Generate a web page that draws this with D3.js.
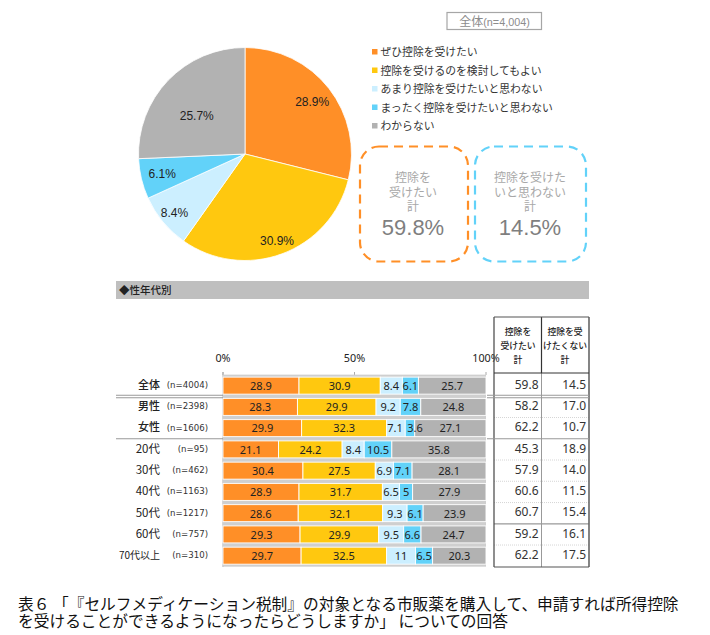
<!DOCTYPE html>
<html><head><meta charset="utf-8">
<script src="https://cdn.jsdelivr.net/npm/d3@7"></script>
<style>html,body{margin:0;padding:0;background:#fff}svg{display:block}text{font-family:"Noto Sans CJK JP","Noto Sans",sans-serif;text-spacing-trim:space-all}</style>
</head><body><div id="c"></div>
<script>
const legendLabels=["ぜひ控除を受けたい","控除を受けるのを検討してもよい","あまり控除を受けたいと思わない","まったく控除を受けたいと思わない","わからない"];
const colors=["#ff8f27","#ffc80f","#ccefff","#62d2f9","#b2b2b2"];
const pieValues=[28.9,30.9,8.4,6.1,25.7];
const rowNames=["全体","男性","女性","20代","30代","40代","50代","60代","70代以上"];
const rowNs=["(n=4004)","(n=2398)","(n=1606)","(n=95)","(n=462)","(n=1163)","(n=1217)","(n=757)","(n=310)"];
const seriesA=[28.9,28.3,29.9,21.1,30.4,28.9,28.6,29.3,29.7];
const seriesB=[30.9,29.9,32.3,24.2,27.5,31.7,32.1,29.9,32.5];
const seriesC=[8.4,9.2,7.1,8.4,6.9,6.5,9.3,9.5,11];
const seriesD=[6.1,7.8,3.6,10.5,7.1,5,6.1,6.6,6.5];
const seriesE=[25.7,24.8,27.1,35.8,28.1,27.9,23.9,24.7,20.3];
const totalWant=["59.8","58.2","62.2","45.3","57.9","60.6","60.7","59.2","62.2"];
const totalNot=["14.5","17.0","10.7","18.9","14.0","11.5","15.4","16.1","17.5"];
const axisTicks=[0,50,100];
const series=[seriesA,seriesB,seriesC,seriesD,seriesE];

const svg=d3.select("#c").append("svg").attr("width",710).attr("height",635);
const sans='"Liberation Sans",Arial,sans-serif';
const num='"Noto Sans",sans-serif';

// pie
const pie=d3.pie().sort(null)(pieValues);
const rPie=106.5,arc=d3.arc().innerRadius(0).outerRadius(rPie);
const gp=svg.append("g").attr("transform","translate(245,154)");
gp.selectAll("path").data(pie).join("path").attr("d",arc).attr("fill",(d,i)=>colors[i]).attr("stroke","#fff").attr("stroke-width",0.8);
const labelR=[0.80,0.865,0.86,0.80,0.575],labelTurn=[0,0,0,0,-0.1];
gp.selectAll("text").data(pie).join("text")
 .attr("transform",(d,i)=>{const a=(d.startAngle+d.endAngle)/2+labelTurn[i],r=rPie*labelR[i];return `translate(${Math.sin(a)*r},${-Math.cos(a)*r})`})
 .attr("text-anchor","middle").attr("dy","0.35em").attr("font-size",12).attr("fill","#222").style("font-family",sans)
 .text(d=>d.value.toFixed(1)+"%");

// title box
svg.append("rect").attr("x",447).attr("y",12.5).attr("width",94.5).attr("height",17).attr("fill","#fff").attr("stroke","#a6a6a6").attr("stroke-width",1.2);
const tt=svg.append("text").attr("x",494.5).attr("y",26).attr("text-anchor","middle").attr("fill","#8c8c8c");
tt.append("tspan").attr("font-size",12).text("全体");
tt.append("tspan").attr("font-size",10.8).style("font-family",sans).text("(n=4,004)");

// legend
const lg=svg.append("g").selectAll("g").data(legendLabels).join("g").attr("transform",(d,i)=>`translate(372,${52+i*18.5})`);
lg.append("rect").attr("y",-3).attr("width",5.5).attr("height",5.5).attr("fill",(d,i)=>colors[i]);
lg.append("text").attr("x",8.5).attr("y",0.5).attr("dy","0.35em").attr("font-size",10.8).attr("fill","#333").text(d=>d);

// dashed callouts
const boxes=[{x:360,c:"#ff8f27",l:["控除を","受けたい","計"],v:"59.8%",cx:413,w:108},{x:475,c:"#62d2f9",l:["控除を受けた","いと思わない","計"],v:"14.5%",cx:530,w:111}];
boxes.forEach(b=>{
 svg.append("rect").attr("x",b.x).attr("y",146.5).attr("width",b.w).attr("height",115).attr("rx",19).attr("fill","#fff").attr("stroke",b.c).attr("stroke-width",2.2).attr("stroke-dasharray","9 6");
 b.l.forEach((t,i)=>svg.append("text").attr("x",b.cx).attr("y",182+i*14.5).attr("text-anchor","middle").attr("font-size",12).attr("fill","#a8a8a8").text(t));
 svg.append("text").attr("x",b.cx).attr("y",235).attr("text-anchor","middle").attr("font-size",22).attr("fill","#7f7f7f").style("font-family",sans).text(b.v);
});

// section band
svg.append("rect").attr("x",116).attr("y",281).attr("width",473).attr("height",18).attr("fill","#bfbfbf");
svg.append("text").attr("x",119).attr("y",290).attr("dy","0.35em").attr("font-size",10.5).attr("fill","#222").attr("font-weight",500).text("◆性年代別");

// bars
const x=d3.scaleLinear().domain([0,100]).range([223,486]);
const y=d3.scaleBand().domain(rowNames).range([375,566.3]).paddingInner(0.2).paddingOuter(0.1);
svg.append("line").attr("x1",223).attr("x2",223).attr("y1",372).attr("y2",567).attr("stroke","#bbb").attr("stroke-width",1.2);
axisTicks.forEach(t=>{
 svg.append("line").attr("x1",x(t)).attr("x2",x(t)).attr("y1",372).attr("y2",375).attr("stroke","#aaa");
 svg.append("text").attr("x",x(t)).attr("y",358).attr("dy","0.35em").attr("text-anchor","middle").attr("font-size",10.8).attr("fill","#222").style("font-family",num).text(t+"%");
});
rowNames.forEach(n=>{
 svg.append("rect").attr("x",223).attr("width",263).attr("y",y(n)-2.5).attr("height",y.bandwidth()+5).attr("fill","#cfcfcf");
});
rowNames.forEach((n,r)=>{
 let cum=0;
 const g=svg.append("g"),gl=svg.append("g");
 series.forEach((s,k)=>{
  const v=s[r],x0=x(cum),x1=x(cum+v);cum+=v;
  const nudge=(r===2&&k===3)?5:(r===2&&k===2)?-1:0;
  g.append("rect").attr("x",x0).attr("y",y(n)).attr("width",x1-x0).attr("height",y.bandwidth()).attr("fill",colors[k]).attr("stroke","#fff").attr("stroke-width",0.9);
  gl.append("text").attr("x",(x0+x1)/2+nudge).attr("y",y(n)+y.bandwidth()/2+0.5).attr("dy","0.35em").attr("text-anchor","middle").attr("font-size",11).attr("fill","#222").style("font-family",num).text(v);
 });
 const cy=y(n)+y.bandwidth()/2;
 svg.append("text").attr("x",160).attr("y",cy-0.5).attr("dy","0.35em").attr("text-anchor","end").attr("font-size",r==8?10:r>2?11.5:11).attr("font-weight",r<3?500:400).attr("fill","#222").text(n);
 svg.append("text").attr("x",208).attr("y",cy-0.5).attr("dy","0.35em").attr("text-anchor","end").attr("font-size",8.6).attr("fill","#333").style("font-family",'"DejaVu Sans",sans-serif').text(rowNs[r]);
});

// table
const tl=494,tm=541.5,tr=589,tt0=317,th=373,tb=567;
const rowLine=i=>y(rowNames[i])-(y.step()-y.bandwidth())/2;
for(let i=1;i<9;i++){
 if(i==1||i==3)continue;
 const yy=rowLine(i),solid=(i==7);
 svg.append("line").attr("x1",tl).attr("x2",tr).attr("y1",yy).attr("y2",yy).attr("stroke",solid?"#999":"#ccc").attr("stroke-width",solid?1.2:0.8).attr("stroke-dasharray",solid?null:"1 1");
}
svg.append("line").attr("x1",tm).attr("x2",tm).attr("y1",th).attr("y2",tb).attr("stroke","#999");
svg.append("line").attr("x1",tm).attr("x2",tm).attr("y1",tt0).attr("y2",th).attr("stroke","#333").attr("stroke-width",1.2);
svg.append("line").attr("x1",tl).attr("x2",tl).attr("y1",tt0).attr("y2",tb).attr("stroke","#444").attr("stroke-width",1.2);
svg.append("line").attr("x1",tr).attr("x2",tr).attr("y1",tt0).attr("y2",tb).attr("stroke","#666").attr("stroke-width",1.6);
[tt0,tb].forEach(v=>svg.append("line").attr("x1",tl).attr("x2",tr).attr("y1",v).attr("y2",v).attr("stroke","#555").attr("stroke-width",1.2));
svg.append("line").attr("x1",tl).attr("x2",tr).attr("y1",th).attr("y2",th).attr("stroke","#333").attr("stroke-width",1);
[["控除を","受けたい","計"],["控除を受","けたくない","計"]].forEach((c,j)=>c.forEach((t,i)=>svg.append("text").attr("x",j?565:518).attr("y",334.5+i*14.4).attr("text-anchor","middle").attr("font-size",8.8).attr("font-weight",500).attr("fill","#222").text(t)));
rowNames.forEach((n,r)=>{
 const cy=y(n)+y.bandwidth()/2-1;
 svg.append("text").attr("x",538.5).attr("y",cy).attr("dy","0.35em").attr("text-anchor","end").attr("font-size",12).attr("fill","#333").style("font-family",num).text(totalWant[r]);
 svg.append("text").attr("x",586).attr("y",cy).attr("dy","0.35em").attr("text-anchor","end").attr("font-size",12).attr("fill","#333").style("font-family",num).text(totalNot[r]);
});

// group separators
const sep1=rowLine(1),sep2=rowLine(3);
[[116,223],[487,589]].forEach(([a,b])=>{
 svg.append("line").attr("x1",a).attr("x2",b).attr("y1",sep1-1).attr("y2",sep1-1).attr("stroke","#999").attr("stroke-width",1);
 svg.append("line").attr("x1",a).attr("x2",b).attr("y1",sep1+1.5).attr("y2",sep1+1.5).attr("stroke","#999").attr("stroke-width",1);
 svg.append("line").attr("x1",a).attr("x2",b).attr("y1",sep2).attr("y2",sep2).attr("stroke","#999").attr("stroke-width",1.1);
});

// caption
["表６ 「『セルフメディケーション税制』の対象となる市販薬を購入して、申請すれば所得控除","を受けることができるようになったらどうしますか」 についての回答"].forEach((t,i)=>
 svg.append("text").attr("x",18).attr("y",609.5+i*17).attr("font-size",15.72).attr("fill","#111").text(t));
</script></body></html>
